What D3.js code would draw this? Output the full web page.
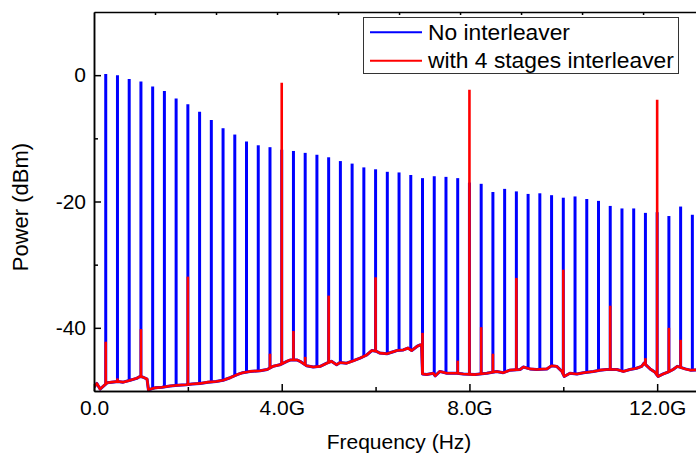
<!DOCTYPE html>
<html>
<head>
<meta charset="utf-8">
<script src="https://cdn.jsdelivr.net/npm/d3@7"></script>
<style>
  body { margin: 0; background: #fff; }
  text { font-family: "Liberation Sans", Arial, sans-serif; fill: #000; }
</style>
</head>
<body>
<svg width="696" height="454"></svg>
<script>
// Spectrum of a 250 MHz comb, with and without the interleaver

// noise floor shared by both traces (GHz, dBm)
var floorFreq = [0, 0.06, 0.13, 0.19, 0.28, 0.38, 0.51, 0.62, 0.77, 0.91, 0.98, 1.04, 1.13, 1.16,
    1.3, 1.45, 1.62, 1.79, 1.96, 2.09, 2.26, 2.43, 2.6, 2.75, 2.9, 3.05, 3.17, 3.32, 3.54, 3.69,
    3.81, 3.96, 4.11, 4.18, 4.33, 4.39, 4.53, 4.67, 4.82, 4.96, 5.06, 5.17, 5.24, 5.38, 5.53,
    5.67, 5.81, 5.92, 6.01, 6.09, 6.24, 6.41, 6.45, 6.59, 6.69, 6.77, 6.88, 6.95, 6.98, 7.0,
    7.09, 7.23, 7.27, 7.37, 7.52, 7.73, 7.87, 8.12, 8.37, 8.58, 8.72, 8.86, 9.08, 9.15, 9.29,
    9.43, 9.65, 9.75, 9.86, 9.97, 10.02, 10.14, 10.29, 10.43, 10.64, 10.78, 10.92, 11.14, 11.28,
    11.42, 11.56, 11.67, 11.72, 11.85, 11.95, 12.02, 12.13, 12.23, 12.34, 12.43, 12.6, 12.71, 13.0];
var floorPower = [-49.4, -48.8, -49.7, -49.3, -48.7, -48.6, -48.5, -48.6, -48.3, -48.0, -47.7, -47.8, -48.1, -49.8,
    -49.5, -49.4, -49.2, -49.1, -49.0, -48.9, -48.8, -48.6, -48.5, -48.3, -47.9, -47.4, -47.1, -46.9, -46.8, -46.6,
    -46.1, -45.85, -45.3, -45.1, -45.1, -45.3, -46.0, -46.2, -46.1, -45.6, -45.3, -45.85, -45.5, -45.6, -45.2,
    -44.8, -44.3, -43.6, -43.7, -44.0, -44.1, -43.7, -43.6, -43.5, -43.2, -43.6, -42.95, -42.7, -42.7, -47.3,
    -47.4, -47.2, -47.6, -46.9, -47.2, -47.2, -47.3, -47.4, -47.2, -46.9, -47.1, -46.7, -46.6, -46.2, -46.5,
    -46.6, -46.5, -46.0, -46.1, -46.9, -47.7, -47.2, -47.3, -47.1, -46.9, -46.7, -46.6, -46.6, -46.9,
    -46.6, -46.4, -46.1, -45.6, -46.5, -47.0, -47.7, -47.3, -47.0, -46.6, -46.1, -46.5, -46.7, -46.6];

// comb lines without interleaver (every 0.25 GHz)
var bluePower = [0.2, 0, -0.6, -1.0, -1.8, -2.5, -3.7, -4.6, -5.8, -7.1, -8.4, -9.4, -10.5, -11.1, -11.4,
    -11.8, -12.0, -12.3, -12.6, -13.0, -13.6, -14.0, -14.6, -14.9, -15.3, -15.4, -15.8, -16.3, -16.0, -16.1,
    -16.3, -17.0, -17.2, -18.5, -18.0, -18.4, -18.8, -18.7, -19.0, -19.4, -19.2, -19.6, -19.9, -20.7, -21.1,
    -21.1, -21.8, -21.7, -22.3, -20.8, -22.1];
var blueFreq = d3.range(1, bluePower.length + 1).map(function(i) { return i * 0.25; });

// lines left with the 4 stages interleaver
var redFreq = [0.25, 0.5, 1.0, 2.0, 3.75, 4.0, 4.25, 4.5, 5.0, 6.0, 7.0, 7.75, 8.0, 8.25, 8.5, 9.0,
    10.0, 11.0, 11.75, 12.0, 12.25, 12.5];
var redPower = [-42.2, -48.0, -40.2, -31.9, -44.1, -1.2, -40.5, -44.6, -34.9, -32.0, -40.8, -45.2, -2.3,
    -39.9, -44.1, -32.1, -30.8, -36.5, -44.8, -3.9, -40.0, -41.9];

var xTicks = [0, 4, 8, 12];
var xTickLabels = ["0.0", "4.0G", "8.0G", "12.0G"];
var xMinor = [2, 6, 10];
var topTicks = [1.3, 2.6, 3.9, 5.2, 6.5, 7.8, 9.1, 10.4, 11.7];
var yTicks = [-40, -20, 0];
var yMinor = [-30, -10];

var svg = d3.select("svg");
var mLeft = 94, mTop = 12, mBottom = 391;

var x = d3.scaleLinear().domain([0, 13]).range([mLeft, mLeft + 13 * 46.93]);
var y = d3.scaleLinear().domain([-50, 10]).range([mBottom, mTop]);

svg.append("clipPath").attr("id", "plot")
    .append("rect")
    .attr("x", mLeft).attr("y", mTop)
    .attr("width", x(13) - mLeft).attr("height", mBottom - mTop);

// floor value under a spike
var bis = d3.bisector(function(d) { return d; }).left;
function floorAt(f) {
    var i = bis(floorFreq, f);
    if (i <= 0) return floorPower[0];
    if (i >= floorFreq.length) return floorPower[floorPower.length - 1];
    var t = (f - floorFreq[i - 1]) / (floorFreq[i] - floorFreq[i - 1]);
    return floorPower[i - 1] + t * (floorPower[i] - floorPower[i - 1]);
}

var floorData = floorFreq.map(function(f, i) { return [f, floorPower[i]]; });
var line = d3.line()
    .x(function(d) { return x(d[0]); })
    .y(function(d) { return y(d[1]); });

var g = svg.append("g").attr("clip-path", "url(#plot)");

function drawTrace(freqs, powers, color, w, wSpike) {
    g.append("path")
        .datum(floorData)
        .attr("fill", "none")
        .attr("stroke", color)
        .attr("stroke-width", w)
        .attr("stroke-linejoin", "round")
        .attr("d", line);
    g.selectAll(null)
        .data(freqs)
        .enter()
        .append("line")
        .attr("x1", function(d) { return x(d); })
        .attr("x2", function(d) { return x(d); })
        .attr("y1", function(d) { return y(floorAt(d)); })
        .attr("y2", function(d, i) { return y(powers[i]); })
        .attr("stroke", color)
        .attr("stroke-width", wSpike);
}

drawTrace(blueFreq, bluePower, "#0000ff", 3, 3);
drawTrace(redFreq, redPower, "#ff0000", 2.6, 2.6);

// axes, ticks pointing inward
svg.append("g").attr("transform", "translate(0," + mBottom + ")")
    .call(d3.axisBottom(x).tickValues(xTicks)
        .tickFormat(function(d, i) { return xTickLabels[i]; })
        .tickSizeInner(-7).tickSizeOuter(0).tickPadding(9));
svg.append("g").attr("transform", "translate(0," + mBottom + ")")
    .call(d3.axisBottom(x).tickValues(xMinor).tickFormat("")
        .tickSizeInner(-4).tickSizeOuter(0));

svg.append("g").attr("transform", "translate(" + mLeft + ",0)")
    .call(d3.axisLeft(y).tickValues(yTicks)
        .tickFormat(function(d) { return d; })
        .tickSizeInner(-7).tickSizeOuter(0).tickPadding(8));
svg.append("g").attr("transform", "translate(" + mLeft + ",0)")
    .call(d3.axisLeft(y).tickValues(yMinor).tickFormat("")
        .tickSizeInner(-4).tickSizeOuter(0));

svg.append("g").attr("transform", "translate(0," + mTop + ")")
    .call(d3.axisTop(x).tickValues(topTicks).tickFormat("")
        .tickSizeInner(-3).tickSizeOuter(0));

svg.selectAll(".domain, .tick line")
    .attr("stroke", "#000")
    .attr("stroke-width", 1.5);
svg.selectAll(".tick text")
    .attr("font-size", "21px")
    .attr("font-family", "Liberation Sans, Arial, sans-serif")
    .attr("fill", "#000");

svg.append("text")
    .attr("x", 399)
    .attr("y", 449)
    .attr("text-anchor", "middle")
    .attr("font-size", "21px")
    .text("Frequency (Hz)");

svg.append("text")
    .attr("transform", "translate(28,207) rotate(-90)")
    .attr("text-anchor", "middle")
    .attr("font-size", "22px")
    .text("Power (dBm)");

// legend
var lg = svg.append("g");
lg.append("rect")
    .attr("x", 363.5).attr("y", 17.5)
    .attr("width", 315).attr("height", 56)
    .attr("fill", "#fff")
    .attr("stroke", "#333")
    .attr("stroke-width", 1);
var items = [["No interleaver", "#0000ff"], ["with 4 stages interleaver", "#ff0000"]];
items.forEach(function(d, i) {
    var yy = 32.3 + i * 28.4;
    lg.append("line")
        .attr("x1", 370).attr("x2", 422)
        .attr("y1", yy).attr("y2", yy)
        .attr("stroke", d[1]).attr("stroke-width", 2);
    lg.append("text")
        .attr("x", 428)
        .attr("y", yy + 7.5)
        .attr("font-size", "22.8px")
        .text(d[0]);
});
</script>
</body>
</html>
